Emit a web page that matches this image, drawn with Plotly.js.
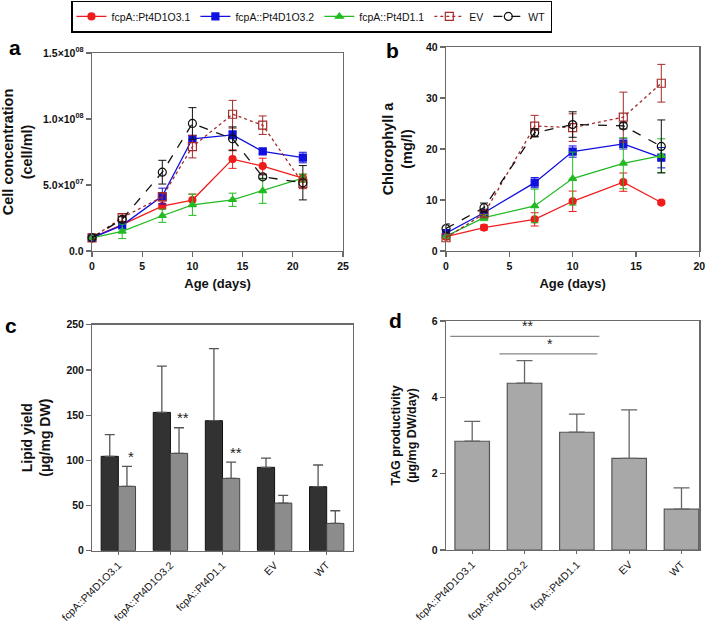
<!DOCTYPE html>
<html>
<head>
<meta charset="utf-8">
<script src="https://cdn.plot.ly/plotly-3.0.1.min.js"></script>
<style>html,body{margin:0;padding:0;background:#fff;}#chart{width:709px;height:627px;}</style>
</head>
<body>
<div id="chart"></div>
<script>
// ---------- DATA ----------
const seriesNames = ['fcpA::Pt4D1O3.1', 'fcpA::Pt4D1O3.2', 'fcpA::Pt4D1.1', 'EV', 'WT'];

// Panel a: cell concentration (cell/ml)
const daysA = [0, 3, 7, 10, 14, 17, 21];
const cellO31 = [1.0e7, 2.0e7, 3.4e7, 3.86e7, 6.96e7, 6.43e7, 5.52e7];
const cellO31Err = [0.1e7, 0.2e7, 0.2e7, 0.45e7, 0.7e7, 0.6e7, 0.3e7];
const cellO32 = [1.0e7, 1.94e7, 4.16e7, 8.5e7, 8.8e7, 7.54e7, 7.08e7];
const cellO32Err = [0.1e7, 0.2e7, 0.6e7, 0.25e7, 0.3e7, 0.15e7, 0.4e7];
const cellD11 = [1.0e7, 1.49e7, 2.67e7, 3.5e7, 3.88e7, 4.56e7, 5.52e7];
const cellD11Err = [0.1e7, 0.55e7, 0.5e7, 0.8e7, 0.5e7, 0.95e7, 0.3e7];
const cellEV = [1.0e7, 2.52e7, 4.1e7, 7.9e7, 10.36e7, 9.53e7, 5.12e7];
const cellEVErr = [0.1e7, 0.3e7, 0.3e7, 0.85e7, 1.05e7, 0.7e7, 0.4e7];
const cellWT = [1.0e7, 2.4e7, 5.97e7, 9.66e7, 8.5e7, 5.62e7, 5.17e7];
const cellWTErr = [0.1e7, 0.2e7, 0.9e7, 1.2e7, 0.9e7, 0.15e7, 1.3e7];
const yTickValsA = [0, 5e7, 1e8, 1.5e8];
const yTickTextA = ['0.0', '5.0×10<sup>07</sup>', '1.0×10<sup>08</sup>', '1.5×10<sup>08</sup>'];

// Panel b: chlorophyll a (mg/l)
const daysB = [0, 3, 7, 10, 14, 17];
const chlO31 = [2.8, 4.6, 6.2, 9.75, 13.5, 9.5];
const chlO31Err = [0.4, 0.5, 1.3, 2.0, 1.8, 0.3];
const chlO32 = [3.5, 7.5, 13.4, 19.5, 21.0, 18.3];
const chlO32Err = [0.4, 0.6, 1.0, 1.1, 1.0, 2.0];
const chlD11 = [2.9, 6.55, 8.84, 14.2, 17.2, 18.7];
const chlD11Err = [0.4, 0.6, 3.3, 5.2, 5.0, 3.3];
const chlEV = [2.6, 7.3, 24.5, 24.2, 26.25, 32.9];
const chlEVErr = [0.4, 0.6, 2.1, 2.7, 4.9, 3.7];
const chlWT = [4.4, 8.5, 23.2, 24.8, 24.55, 20.5];
const chlWTErr = [0.9, 0.9, 0.8, 2.5, 0.6, 5.2];

// Panel c: lipid yield (µg/mg DW)
const lipidDark = [104.4, 153, 143.8, 92.2, 70.8];
const lipidDarkErr = [23.9, 51.3, 79.7, 10.3, 24.0];
const lipidGrey = [71.2, 107.7, 80, 52.7, 30.2];
const lipidGreyErr = [22.1, 28.3, 18, 8.5, 14.0];
const lipidSigLabels = ['*', '**', '**', '', ''];

// Panel d: TAG productivity (µg/mg DW/day)
const tag = [2.85, 4.37, 3.085, 2.4, 1.07];
const tagErr = [0.52, 0.59, 0.475, 1.27, 0.56];
const sigStart = [-0.42, 0.52];
const sigEnd = [2.43, 2.39];
const sigY = [5.6, 5.14];
const sigLabel = ['**', '*'];
const sigLabelX = [1.05, 1.49];

// ---------- STYLE ----------
const FONT = 'Liberation Sans, Arial, sans-serif';
const colors = ['#ee1c1c', '#1010e0', '#22bb22', '#a52a2a', '#111111'];
const symbols = ['circle', 'square', 'triangle-up', 'square-open', 'circle-open'];
const dashes = ['solid', 'solid', 'solid', 'dot', 'dash'];
const sizes = [7, 7, 7, 8, 8];

const dataA = [[cellO31, cellO31Err], [cellO32, cellO32Err], [cellD11, cellD11Err], [cellEV, cellEVErr], [cellWT, cellWTErr]];
const dataB = [[chlO31, chlO31Err], [chlO32, chlO32Err], [chlD11, chlD11Err], [chlEV, chlEVErr], [chlWT, chlWTErr]];

const traces = [];
dataA.forEach((d, i) => {
  traces.push({
    type: 'scatter', mode: 'lines+markers', x: daysA, y: d[0], name: seriesNames[i],
    xaxis: 'x', yaxis: 'y', legendgroup: 'g' + i, cliponaxis: false,
    line: {color: colors[i], width: 1.3, dash: dashes[i]},
    marker: {color: colors[i], symbol: symbols[i], size: sizes[i], line: {color: colors[i], width: 1.2}},
    error_y: {type: 'data', array: d[1], color: colors[i], thickness: 1, width: 4}
  });
});
dataB.forEach((d, i) => {
  traces.push({
    type: 'scatter', mode: 'lines+markers', x: daysB, y: d[0], name: seriesNames[i],
    xaxis: 'x2', yaxis: 'y2', legendgroup: 'g' + i, showlegend: false, cliponaxis: false,
    line: {color: colors[i], width: 1.3, dash: dashes[i]},
    marker: {color: colors[i], symbol: symbols[i], size: sizes[i], line: {color: colors[i], width: 1.2}},
    error_y: {type: 'data', array: d[1], color: colors[i], thickness: 1, width: 4}
  });
});
const zeros = seriesNames.map(() => 0);
traces.push({
  type: 'bar', x: seriesNames, y: lipidDark, xaxis: 'x3', yaxis: 'y3', showlegend: false,
  marker: {color: '#323232', line: {color: '#111111', width: 1}},
  error_y: {type: 'data', symmetric: false, array: lipidDarkErr, arrayminus: zeros, color: '#555', thickness: 1.3, width: 5}
});
traces.push({
  type: 'bar', x: seriesNames, y: lipidGrey, xaxis: 'x3', yaxis: 'y3', showlegend: false,
  marker: {color: '#8c8c8c', line: {color: '#444444', width: 1}},
  error_y: {type: 'data', symmetric: false, array: lipidGreyErr, arrayminus: zeros, color: '#555', thickness: 1.3, width: 5}
});
traces.push({
  type: 'bar', x: seriesNames, y: tag, xaxis: 'x4', yaxis: 'y4', showlegend: false,
  marker: {color: '#a8a8a8', line: {color: '#555555', width: 1.2}},
  error_y: {type: 'data', symmetric: false, array: tagErr, arrayminus: zeros, color: '#666', thickness: 1.3, width: 8}
});

const axBase = {
  showline: true, linecolor: '#6a6a6a', linewidth: 1.3, mirror: true,
  ticks: 'outside', ticklen: 5, tickcolor: '#6a6a6a', tickwidth: 1.2,
  showgrid: false, zeroline: false,
  tickfont: {family: FONT, size: 10.5, weight: 'bold', color: '#111'}
};
function ax(extra) { return Object.assign({}, axBase, extra); }
const titleFont = (s) => ({family: FONT, size: s, weight: 'bold', color: '#111'});

// significance annotations for panel c (derived from data)
const annotations = [];
lipidSigLabels.forEach((lab, i) => {
  if (!lab) return;
  annotations.push({xref: 'x3', yref: 'y3', x: i, y: lipidGrey[i] + lipidGreyErr[i], text: lab,
    showarrow: false, xshift: 13, yshift: 10, font: {family: FONT, size: 15, color: '#222'}});
});
const shapes = [];
sigStart.forEach((s, i) => {
  shapes.push({type: 'line', xref: 'x4', yref: 'y4', x0: s, x1: sigEnd[i], y0: sigY[i], y1: sigY[i],
    line: {color: '#888', width: 1.3}});
  annotations.push({xref: 'x4', yref: 'y4', x: sigLabelX[i], y: sigY[i], text: sigLabel[i],
    showarrow: false, yshift: 10, font: {family: FONT, size: 14, color: '#222'}});
});
// panel letters
[['a', 15, 47], ['b', 392, 50], ['c', 11, 325], ['d', 395, 320]].forEach(p => {
  annotations.push({xref: 'paper', yref: 'paper', x: p[1] / 709, y: 1 - p[2] / 627, text: p[0],
    showarrow: false, xanchor: 'center', yanchor: 'middle', font: {family: FONT, size: 21, weight: 'bold', color: '#000'}});
});

const layout = {
  width: 709, height: 627,
  margin: {l: 0, r: 0, t: 0, b: 0},
  paper_bgcolor: '#fff', plot_bgcolor: '#fff',
  font: {family: FONT, color: '#111'},
  barmode: 'group', bargap: 0.34, bargroupgap: 0,
  showlegend: true,
  legend: {orientation: 'h', x: 0.44, xanchor: 'center', y: 0.999, yanchor: 'top',
    bordercolor: '#000', borderwidth: 1.3, font: {family: FONT, size: 10.5, color: '#111'},
    itemwidth: 30, tracegroupgap: 0},
  xaxis: ax({domain: [0.1298, 0.4838], anchor: 'y', range: [0, 25], tickvals: [0, 5, 10, 15, 20, 25],
    title: {text: 'Age (days)', font: titleFont(13), standoff: 8}}),
  yaxis: ax({domain: [0.5997, 0.9155], anchor: 'x', range: [0, 1.5e8], tickvals: yTickValsA, ticktext: yTickTextA,
    title: {text: 'Cell concentration<br>(cell/ml)', font: titleFont(14.5), standoff: 8}}),
  xaxis2: ax({domain: [0.6291, 0.9863], anchor: 'y2', range: [0, 20], tickvals: [0, 5, 10, 15, 20],
    title: {text: 'Age (days)', font: titleFont(13), standoff: 8}}),
  yaxis2: ax({domain: [0.5997, 0.9250], anchor: 'x2', range: [0, 40], tickvals: [0, 10, 20, 30, 40],
    title: {text: 'Chlorophyll a<br>(mg/l)', font: titleFont(14.5), standoff: 10}}),
  xaxis3: ax({domain: [0.1302, 0.4975], anchor: 'y3', type: 'category', range: [-0.5, 4.5], tickangle: -45, ticklen: 3,
    tickfont: {family: FONT, size: 10.5, color: '#111'}}),
  yaxis3: ax({domain: [0.1217, 0.4821], anchor: 'x3', range: [0, 250], tickvals: [0, 50, 100, 150, 200, 250],
    title: {text: 'Lipid yield<br>(µg/mg DW)', font: titleFont(14), standoff: 12}}),
  xaxis4: ax({domain: [0.6291, 0.9863], anchor: 'y4', type: 'category', range: [-0.5, 4.34], tickangle: -45, ticklen: 3,
    tickfont: {family: FONT, size: 10.5, color: '#111'}}),
  yaxis4: ax({domain: [0.1228, 0.4880], anchor: 'x4', range: [0, 6], tickvals: [0, 2, 4, 6],
    title: {text: 'TAG productivity<br>(µg/mg DW/day)', font: titleFont(12.5), standoff: 12}}),
  annotations: annotations,
  shapes: shapes
};

Plotly.newPlot('chart', traces, layout, {displayModeBar: false, staticPlot: true});
</script>
</body>
</html>
